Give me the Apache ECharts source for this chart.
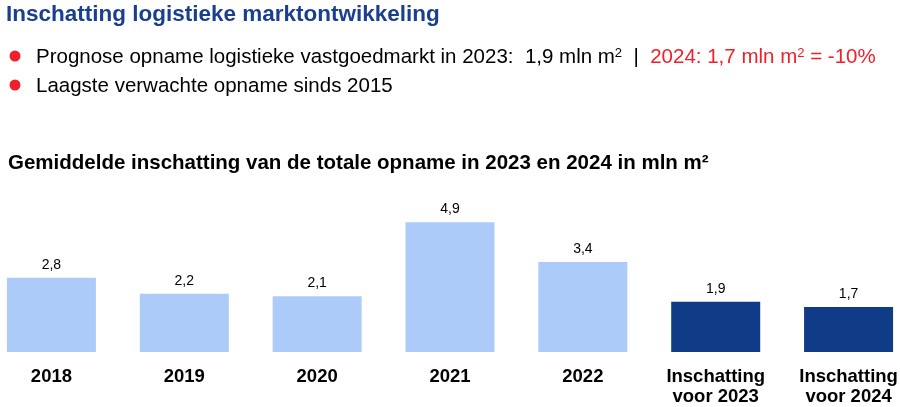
<!DOCTYPE html>
<html>
<head>
<meta charset="utf-8">
<script src="https://cdn.jsdelivr.net/npm/echarts@6/dist/echarts.min.js"></script>
<style>
  html, body { margin: 0; padding: 0; background: #fff; overflow: hidden; }
  #chart { width: 930px; height: 407px; margin-left: -15px; }
</style>
</head>
<body>
<div id="chart"></div>
<script>
var categories = ['2018', '2019', '2020', '2021', '2022', 'Inschatting\nvoor 2023', 'Inschatting\nvoor 2024'];
var values = [2.8, 2.2, 2.1, 4.9, 3.4, 1.9, 1.7];
var isEstimate = [false, false, false, false, false, true, true];

var lightBlue = '#adcbf9';
var darkBlue = '#103b87';
var red = '#f0202a';
var font = 'Liberation Sans, Arial, sans-serif';
// the chart div sticks out 15px on the left, so texts are shifted by it
var ox = 15;

var chart = echarts.init(document.getElementById('chart'));

var barData = [];
for (var i = 0; i < values.length; i++) {
    barData.push({
        value: values[i],
        itemStyle: { color: isEstimate[i] ? darkBlue : lightBlue }
    });
}

chart.setOption({
    animation: false,
    grid: { left: 0, width: 930, top: 193, bottom: 54 },
    xAxis: {
        type: 'category',
        data: categories,
        axisLine: { show: false },
        axisTick: { show: false },
        axisLabel: {
            color: '#000', fontFamily: font, fontWeight: 'bold',
            fontSize: 18.5, lineHeight: 20, margin: 15, interval: 0
        }
    },
    yAxis: { type: 'value', min: 0, max: 6, show: false },
    series: [{
        type: 'bar',
        data: barData,
        barWidth: 89,
        label: {
            show: true, position: 'top', distance: 6,
            color: '#000', fontFamily: font, fontSize: 14,
            formatter: function (p) { return String(p.value).replace('.', ','); }
        }
    }],
    graphic: [
        { type: 'text', left: ox + 6, top: 3, style: { text: 'Inschatting logistieke marktontwikkeling', fill: '#1b3f8f', font: 'bold 22.5px ' + font } },
        { type: 'circle', shape: { cx: ox + 15, cy: 56, r: 5.5 }, style: { fill: red } },
        { type: 'circle', shape: { cx: ox + 15, cy: 85, r: 5.5 }, style: { fill: red } },
        { type: 'text', left: ox + 36, top: 47, style: {
            text: '{a|Prognose opname logistieke vastgoedmarkt in 2023:  1,9 mln m}{as|2}{a|  |  }{r|2024: 1,7 mln m}{rs|2}{r| = -10%}',
            rich: {
                a: { fontFamily: font, fontSize: 20.5, fill: '#000', verticalAlign: 'bottom' },
                as: { fontFamily: font, fontSize: 13, fill: '#000', verticalAlign: 'top' },
                r: { fontFamily: font, fontSize: 20.5, fill: red, verticalAlign: 'bottom' },
                rs: { fontFamily: font, fontSize: 13, fill: red, verticalAlign: 'top' }
            }
        } },
        { type: 'text', left: ox + 36, top: 76, style: { text: 'Laagste verwachte opname sinds 2015', fill: '#000', font: '20.5px ' + font } },
        { type: 'text', left: ox + 8, top: 153, style: { text: 'Gemiddelde inschatting van de totale opname in 2023 en 2024 in mln m²', fill: '#000', font: 'bold 20.5px ' + font } }
    ]
});
</script>
</body>
</html>
